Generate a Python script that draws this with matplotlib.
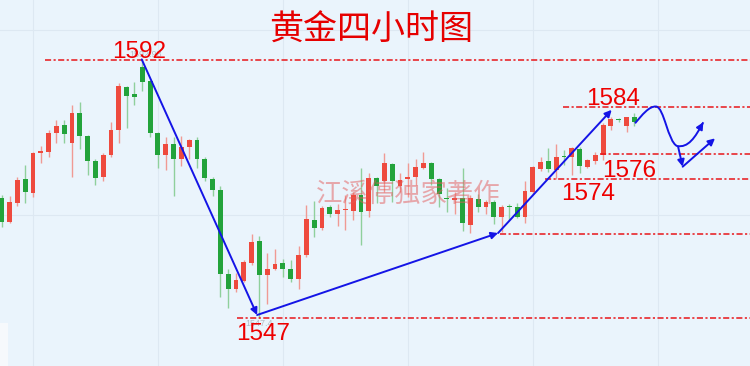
import matplotlib
matplotlib.use('Agg')
import matplotlib.pyplot as plt
from matplotlib.path import Path
from matplotlib.patches import PathPatch, Rectangle
import numpy as np

plt.rcParams['font.family'] = ['Liberation Sans', 'Noto Sans CJK SC', 'DejaVu Sans']

# 4h gold candles (price units)
opens = [1567.9, 1563.7, 1567.0, 1571.2, 1568.8, 1575.8, 1576.0, 1579.2, 1580.7, 1577.5,
         1582.7, 1578.7, 1574.3, 1571.5, 1575.4, 1579.7, 1587.3, 1586.0, 1590.7, 1588.4,
         1579.3, 1575.4, 1577.3, 1574.7, 1576.8, 1578.0, 1574.7, 1571.2, 1569.4, 1554.7,
         1552.0, 1553.5, 1556.5, 1560.5, 1554.4, 1555.6, 1556.5, 1555.6, 1553.8, 1558.0,
         1564.1, 1562.6, 1566.3, 1565.1, 1565.8, 1565.7, 1568.4, 1565.7, 1571.4, 1570.8,
         1573.9, 1570.0, 1571.2, 1571.5, 1573.2, 1574.1, 1571.2, 1567.9, 1567.6, 1567.9,
         1563.2, 1567.7, 1566.3, 1567.3, 1564.6, 1566.4, 1566.3, 1564.6, 1569.0, 1572.9,
         1574.4, 1572.8, 1575.2, 1575.0, 1576.4, 1573.4, 1574.4, 1575.4, 1580.5, 1581.7,
         1580.5, 1582.0]
highs = [1568.4, 1568.3, 1571.5, 1573.7, 1575.9, 1577.0, 1579.8, 1581.5, 1581.5, 1584.2,
         1584.7, 1578.9, 1574.8, 1575.7, 1581.1, 1588.0, 1587.5, 1588.2, 1592.0, 1588.5,
         1579.5, 1578.6, 1578.6, 1578.8, 1578.3, 1578.6, 1575.1, 1571.6, 1570.0, 1555.5,
         1554.8, 1557.1, 1561.6, 1561.3, 1558.4, 1559.0, 1557.3, 1557.1, 1559.6, 1566.7,
         1567.4, 1566.5, 1566.7, 1566.8, 1568.4, 1569.0, 1573.1, 1572.3, 1571.6, 1575.7,
         1574.0, 1572.2, 1574.1, 1574.7, 1576.0, 1574.2, 1571.4, 1569.6, 1569.0, 1573.1,
         1568.4, 1568.6, 1567.6, 1567.6, 1566.7, 1566.9, 1567.0, 1570.8, 1573.5, 1575.1,
         1576.6, 1577.3, 1576.3, 1576.9, 1576.9, 1574.8, 1576.0, 1581.0, 1582.0, 1581.8,
         1582.1, 1582.7]
lows = [1562.9, 1563.6, 1566.5, 1567.1, 1568.1, 1574.1, 1575.1, 1577.5, 1577.6, 1571.6,
        1576.4, 1571.9, 1570.2, 1570.9, 1575.0, 1577.6, 1580.1, 1584.2, 1586.6, 1578.6,
        1573.1, 1572.8, 1568.3, 1573.5, 1574.7, 1573.1, 1570.8, 1568.3, 1550.7, 1548.7,
        1551.6, 1553.3, 1556.2, 1547.0, 1549.4, 1555.3, 1554.2, 1553.3, 1552.0, 1557.7,
        1561.1, 1562.3, 1564.6, 1563.0, 1562.3, 1564.0, 1559.7, 1564.6, 1567.0, 1569.0,
        1567.3, 1569.0, 1568.1, 1570.2, 1573.0, 1570.2, 1566.4, 1565.5, 1565.2, 1562.2,
        1561.8, 1565.5, 1565.2, 1563.4, 1562.0, 1564.1, 1564.4, 1563.6, 1568.7, 1572.7,
        1572.5, 1571.2, 1573.7, 1571.9, 1572.2, 1573.2, 1573.8, 1574.5, 1579.7, 1581.2,
        1579.5, 1580.5]
closes = [1563.8, 1567.3, 1571.1, 1569.0, 1575.7, 1576.2, 1579.3, 1580.5, 1579.1, 1582.7,
          1578.7, 1574.3, 1571.4, 1575.4, 1579.7, 1587.5, 1585.7, 1585.6, 1588.2, 1579.3,
          1575.5, 1577.3, 1574.7, 1576.9, 1578.0, 1574.7, 1571.4, 1569.3, 1554.7, 1552.0,
          1553.6, 1556.7, 1560.3, 1554.5, 1555.5, 1556.4, 1555.5, 1553.7, 1558.0, 1564.2,
          1562.6, 1566.2, 1565.1, 1565.8, 1566.0, 1568.4, 1565.5, 1571.4, 1570.0, 1574.1,
          1570.8, 1571.1, 1571.5, 1573.3, 1574.1, 1571.2, 1568.6, 1567.7, 1567.9, 1563.5,
          1567.9, 1566.3, 1567.3, 1564.6, 1566.4, 1566.3, 1564.6, 1569.1, 1573.3, 1574.2,
          1572.9, 1575.0, 1575.0, 1576.6, 1573.5, 1574.6, 1575.4, 1580.7, 1581.7, 1581.5,
          1582.0, 1581.2]

# support / resistance levels and where each line starts (candle index)
level_prices = [1592.0, 1583.8, 1575.6, 1571.2, 1561.7, 1547.0]
level_starts = [5.5, 71.9, 76.6, 69.6, 63.8, 30.1]

# price labels: text, x (candle index), baseline price
label_texts = ['1592', '1547', '1584', '1576', '1574']
label_x = [17.6, 33.5, 78.3, 80.3, 75.1]
label_y = [1592.35, 1543.1, 1584.15, 1571.6, 1567.6]

# blue trend arrows: swing points
swing_x = [17.93, 32.7, 63.55, 78.1]
swing_y = [1592.1, 1547.5, 1561.8, 1583.3]

title = '黄金四小时图'
watermark = '江溪停独家著作'

BG = '#eaf4fc'
RED_BODY = '#ee4a3e'
GREEN_BODY = '#23a33b'
RED_WICK = '#f09a94'
GREEN_WICK = '#8fd09c'
LEVEL_RED = '#e8161a'
BLUE = '#1414e6'

fig = plt.figure(figsize=(7.5, 3.66), dpi=100)
fig.patch.set_facecolor(BG)
ax = fig.add_axes([0, 0, 1, 1])
ax.set_facecolor(BG)
ax.set_xlim(-0.22, 95.81)
ax.set_ylim(1538.6, 1602.47)
ax.axis('off')

# faint background grid
for gx in [33, 158, 283, 408, 533, 658]:
    ax.plot([gx / 750, gx / 750], [0, 1], transform=ax.transAxes, color='#dde8f2', lw=0.8, zorder=0)
for gy in [30, 215]:
    ax.plot([0, 1], [1 - gy / 366, 1 - gy / 366], transform=ax.transAxes, color='#dde8f2', lw=0.8, zorder=0)

o = np.array(opens)
h = np.array(highs)
l = np.array(lows)
c = np.array(closes)
idx = np.arange(len(o))
up = c >= o

ax.vlines(idx[up], l[up], h[up], color=RED_WICK, lw=1.0, zorder=2)
ax.vlines(idx[~up], l[~up], h[~up], color=GREEN_WICK, lw=1.0, zorder=2)
body_h = np.maximum(np.abs(c - o), 0.25)
body_b = np.minimum(o, c)
ax.bar(idx[up], body_h[up], bottom=body_b[up], width=0.62, color=RED_BODY, zorder=3)
ax.bar(idx[~up], body_h[~up], bottom=body_b[~up], width=0.62, color=GREEN_BODY, zorder=3)

# dash-dot level lines
for price, start in zip(level_prices, level_starts):
    ax.plot([start, 95.81], [price, price], color=LEVEL_RED, lw=1.1,
            linestyle=(0, (4, 1.6, 1.4, 1.6)), zorder=4)

# ghost labels from the original platform, partly hidden under the red labels
ax.text(18.4, 1592.9, '1592.98', color='#9aa4ae', fontsize=6.5, ha='center', va='center', alpha=0.7, zorder=4)
ax.text(32.9, 1546.0, '1547.4', color='#9aa4ae', fontsize=6.5, ha='center', va='center', alpha=0.7, zorder=4)

arrow_kw = dict(arrowstyle='-|>', color=BLUE, lw=1.4, mutation_scale=10, shrinkA=0, shrinkB=0)
for k in range(len(swing_x) - 1):
    ax.annotate('', xy=(swing_x[k + 1], swing_y[k + 1]), xytext=(swing_x[k], swing_y[k]),
                arrowprops=arrow_kw, zorder=6)

# projected path: up, drop, then bounce (two variants)
curve = Path([(81.09, 1580.95), (81.99, 1582.40), (82.88, 1583.97), (83.78, 1583.88),
              (84.80, 1583.80), (85.31, 1577.69), (86.47, 1576.99),
              (87.88, 1576.64), (88.77, 1578.39), (89.83, 1581.13)],
             [Path.MOVETO, Path.CURVE4, Path.CURVE4, Path.CURVE4,
              Path.CURVE4, Path.CURVE4, Path.CURVE4,
              Path.CURVE4, Path.CURVE4, Path.CURVE4])
ax.add_patch(PathPatch(curve, facecolor='none', edgecolor=BLUE, lw=1.4, zorder=6))
ax.annotate('', xy=(89.83, 1581.13), xytext=(89.3, 1579.9), arrowprops=arrow_kw, zorder=6)
ax.annotate('', xy=(87.19, 1573.38), xytext=(86.6, 1576.9), arrowprops=arrow_kw, zorder=6)
ax.annotate('', xy=(91.33, 1578.33), xytext=(87.19, 1573.38), arrowprops=arrow_kw, zorder=6)

for txt, x, y in zip(label_texts, label_x, label_y):
    ax.text(x, y, txt, color='#ee0000', fontsize=17.5, ha='center', va='baseline', zorder=7)

fig.text(371 / 750, 1 - 30 / 366, title, color='#e60000', fontsize=24.5,
         family=['Noto Sans CJK SC', 'DejaVu Sans'], ha='center', va='center')
fig.text(408 / 750, 1 - 194 / 366, watermark, color='#e35a5a', alpha=0.5, fontsize=19,
         family=['Noto Sans CJK SC', 'DejaVu Sans'], ha='center', va='center', zorder=8)

ax.add_patch(Rectangle((0, 0), 8 / 750, 43 / 366, transform=ax.transAxes,
                       facecolor='#f6f9fc', edgecolor='none', zorder=1))

fig.savefig('out.png', dpi=100, facecolor=BG)
